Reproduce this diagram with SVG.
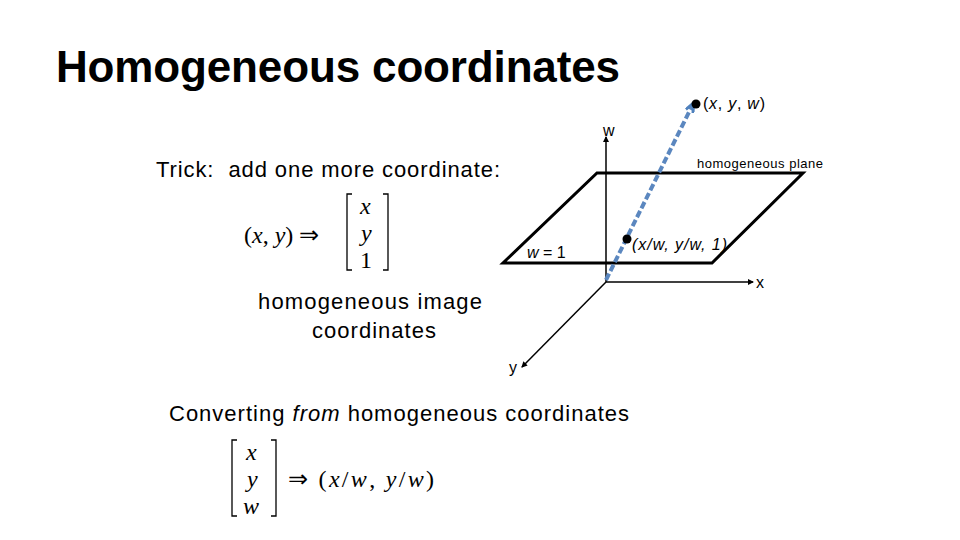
<svg xmlns="http://www.w3.org/2000/svg" width="960" height="540" viewBox="0 0 960 540">
<defs>
<marker id="ah" markerWidth="6" markerHeight="6" refX="5" refY="3" orient="auto" markerUnits="userSpaceOnUse"><path d="M0,0 L6,3 L0,6 z" fill="#000"/></marker>
<marker id="bh" markerWidth="12" markerHeight="10" refX="9" refY="5" orient="auto" markerUnits="userSpaceOnUse"><path d="M1,1 L10,5 L1,9" fill="none" stroke="#4f81bd" stroke-width="3"/></marker>
</defs>
<style>
.s{font-family:"Liberation Sans",Arial,sans-serif;fill:#000}
.m{font-family:"Liberation Serif","Times New Roman",serif;fill:#000;font-size:24px}
.mi{font-style:italic}
</style>
<rect width="960" height="540" fill="#fff"/>
<text class="s" x="56" y="82" font-size="44" font-weight="bold" textLength="564">Homogeneous coordinates</text>
<text class="s" x="156" y="177" font-size="22" xml:space="preserve" textLength="344">Trick:  add one more coordinate:</text>
<g id="eq1">
<text class="m" x="244" y="243">(<tspan class="mi">x</tspan>, <tspan class="mi">y</tspan>) ⇒</text>
<path d="M352,194 h-5 v76 h5 M383,194 h5 v76 h-5" fill="none" stroke="#000" stroke-width="1.3"/>
<text class="m mi" x="360" y="214">x</text>
<text class="m mi" x="361" y="241">y</text>
<text class="m" x="360" y="268">1</text>
</g>
<text class="s" x="258" y="309" font-size="22" textLength="224">homogeneous image</text>
<text class="s" x="312" y="338" font-size="22" textLength="124">coordinates</text>
<text class="s" x="169" y="421" font-size="22" textLength="460">Converting <tspan font-style="italic">from</tspan> homogeneous coordinates</text>
<g id="eq2">
<path d="M237,440 h-5 v76 h5 M271,440 h5 v76 h-5" fill="none" stroke="#000" stroke-width="1.3"/>
<text class="m mi" x="246" y="460">x</text>
<text class="m mi" x="247" y="487">y</text>
<text class="m mi" x="243" y="514">w</text>
<text class="m" x="288" y="487" textLength="146">⇒ (<tspan class="mi">x</tspan>/<tspan class="mi">w</tspan>, <tspan class="mi">y</tspan>/<tspan class="mi">w</tspan>)</text>
</g>
<g id="plane">
<path d="M597,173 L803,173 L712,263 L503,263 Z" fill="none" stroke="#000" stroke-width="3"/>
<text class="s" x="697" y="168" font-size="13" textLength="126">homogeneous plane</text>
<text class="s" x="527" y="258" font-size="16"><tspan font-style="italic">w</tspan> = 1</text>
</g>
<g id="connectors">
<line x1="606" y1="282" x2="606" y2="137" stroke="#000" stroke-width="1.5" marker-end="url(#ah)"/>
<line x1="606" y1="282" x2="753" y2="282" stroke="#000" stroke-width="1.5" marker-end="url(#ah)"/>
<line x1="606" y1="282" x2="522" y2="367" stroke="#000" stroke-width="1.5" marker-end="url(#ah)"/>
<line x1="606" y1="280" x2="693" y2="104" stroke="#5b87bf" stroke-width="4" stroke-dasharray="7,3" marker-end="url(#bh)"/>
</g>
<g id="axes-labels">
<text class="s" x="603" y="136" font-size="16">w</text>
<text class="s" x="756" y="288" font-size="16">x</text>
<text class="s" x="509" y="373" font-size="16">y</text>
</g>
<g id="p1"><circle cx="696" cy="104" r="4.5" fill="#000"/><text class="s" x="703" y="109" font-size="16" textLength="62">(<tspan font-style="italic">x</tspan>, <tspan font-style="italic">y</tspan>, <tspan font-style="italic">w</tspan>)</text></g>
<g id="p2"><circle cx="627" cy="239" r="4.5" fill="#000"/><text class="s" x="632" y="250" font-size="16" font-style="italic" textLength="95">(x/w, y/w, 1)</text></g>
</svg>
